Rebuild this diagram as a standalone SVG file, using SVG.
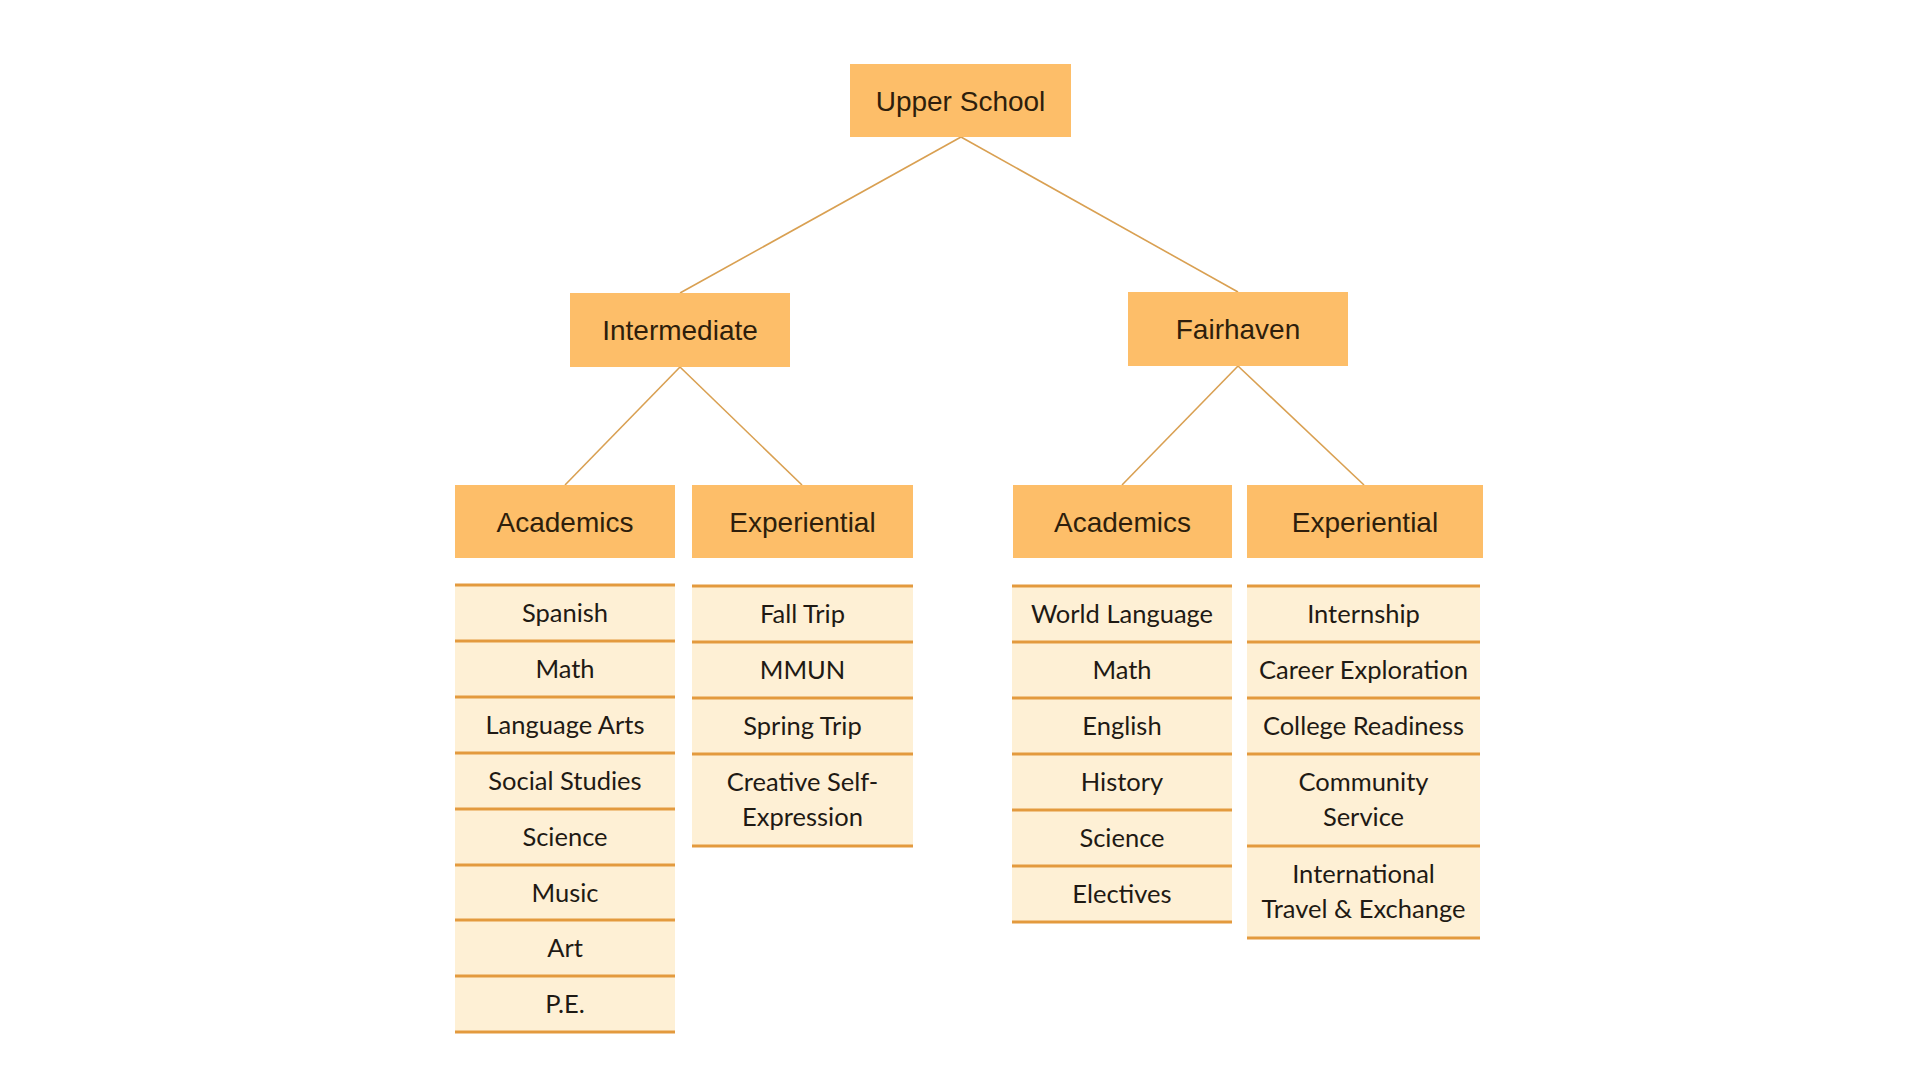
<svg xmlns="http://www.w3.org/2000/svg" width="1920" height="1080" viewBox="0 0 1920 1080">
<style>
.hd{fill:#FDBE69;}
.ht{font-family:"Liberation Sans",Arial,sans-serif;font-size:28px;fill:#2E1E0C;text-anchor:middle;}
.it{fill:#FEF0D5;}
.ln{stroke:#E39A3E;stroke-width:3;}
.tt{font-family:Lato,"Noto Sans",sans-serif;font-size:25.5px;fill:#1F1A14;text-anchor:middle;}
.cn{stroke:#D9A052;stroke-width:1.6;fill:none;}
</style>
<rect width="1920" height="1080" fill="#FFFFFF"/>
<g id="connectors">
<line class="cn" x1="961" y1="137" x2="680" y2="293"/>
<line class="cn" x1="961" y1="137" x2="1238" y2="292"/>
<line class="cn" x1="680" y1="367" x2="565" y2="485"/>
<line class="cn" x1="680" y1="367" x2="802" y2="485"/>
<line class="cn" x1="1238" y1="366" x2="1122" y2="485"/>
<line class="cn" x1="1238" y1="366" x2="1364" y2="485"/>
</g>
<g id="upper-school"><rect class="hd" x="850" y="64" width="221" height="73"/><text class="ht" x="960.5" y="110.5">Upper School</text></g>
<g id="intermediate"><rect class="hd" x="570" y="293" width="220" height="74"/><text class="ht" x="680" y="340">Intermediate</text></g>
<g id="fairhaven"><rect class="hd" x="1128" y="292" width="220" height="74"/><text class="ht" x="1238" y="339">Fairhaven</text></g>
<g id="int-academics"><rect class="hd" x="455" y="485" width="220" height="73"/><text class="ht" x="565" y="531.5">Academics</text></g>
<g id="int-experiential"><rect class="hd" x="692" y="485" width="221" height="73"/><text class="ht" x="802.5" y="531.5">Experiential</text></g>
<g id="fh-academics"><rect class="hd" x="1013" y="485" width="219" height="73"/><text class="ht" x="1122.5" y="531.5">Academics</text></g>
<g id="fh-experiential"><rect class="hd" x="1247" y="485" width="236" height="73"/><text class="ht" x="1365" y="531.5">Experiential</text></g>

<g id="int-academics-list">
<rect class="it" x="455" y="585" width="220" height="447"/>
<line class="ln" x1="455" x2="675" y1="585" y2="585"/>
<line class="ln" x1="455" x2="675" y1="641" y2="641"/>
<line class="ln" x1="455" x2="675" y1="697" y2="697"/>
<line class="ln" x1="455" x2="675" y1="753" y2="753"/>
<line class="ln" x1="455" x2="675" y1="809" y2="809"/>
<line class="ln" x1="455" x2="675" y1="865" y2="865"/>
<line class="ln" x1="455" x2="675" y1="920" y2="920"/>
<line class="ln" x1="455" x2="675" y1="976" y2="976"/>
<line class="ln" x1="455" x2="675" y1="1032" y2="1032"/>
<text class="tt" x="565" y="622">Spanish</text>
<text class="tt" x="565" y="678">Math</text>
<text class="tt" x="565" y="734">Language Arts</text>
<text class="tt" x="565" y="790">Social Studies</text>
<text class="tt" x="565" y="846">Science</text>
<text class="tt" x="565" y="902">Music</text>
<text class="tt" x="565" y="957">Art</text>
<text class="tt" x="565" y="1013">P.E.</text>
</g>

<g id="int-experiential-list">
<rect class="it" x="692" y="586" width="221" height="260"/>
<line class="ln" x1="692" x2="913" y1="586" y2="586"/>
<line class="ln" x1="692" x2="913" y1="642" y2="642"/>
<line class="ln" x1="692" x2="913" y1="698" y2="698"/>
<line class="ln" x1="692" x2="913" y1="754" y2="754"/>
<line class="ln" x1="692" x2="913" y1="846" y2="846"/>
<text class="tt" x="802.5" y="623">Fall Trip</text>
<text class="tt" x="802.5" y="679">MMUN</text>
<text class="tt" x="802.5" y="735">Spring Trip</text>
<text class="tt" x="802.5" y="791">Creative Self-</text>
<text class="tt" x="802.5" y="826">Expression</text>
</g>

<g id="fh-academics-list">
<rect class="it" x="1012" y="586" width="220" height="336"/>
<line class="ln" x1="1012" x2="1232" y1="586" y2="586"/>
<line class="ln" x1="1012" x2="1232" y1="642" y2="642"/>
<line class="ln" x1="1012" x2="1232" y1="698" y2="698"/>
<line class="ln" x1="1012" x2="1232" y1="754" y2="754"/>
<line class="ln" x1="1012" x2="1232" y1="810" y2="810"/>
<line class="ln" x1="1012" x2="1232" y1="866" y2="866"/>
<line class="ln" x1="1012" x2="1232" y1="922" y2="922"/>
<text class="tt" x="1122" y="623">World Language</text>
<text class="tt" x="1122" y="679">Math</text>
<text class="tt" x="1122" y="735">English</text>
<text class="tt" x="1122" y="791">History</text>
<text class="tt" x="1122" y="847">Science</text>
<text class="tt" x="1122" y="903">Electives</text>
</g>

<g id="fh-experiential-list">
<rect class="it" x="1247" y="586" width="233" height="352"/>
<line class="ln" x1="1247" x2="1480" y1="586" y2="586"/>
<line class="ln" x1="1247" x2="1480" y1="642" y2="642"/>
<line class="ln" x1="1247" x2="1480" y1="698" y2="698"/>
<line class="ln" x1="1247" x2="1480" y1="754" y2="754"/>
<line class="ln" x1="1247" x2="1480" y1="846" y2="846"/>
<line class="ln" x1="1247" x2="1480" y1="938" y2="938"/>
<text class="tt" x="1363.5" y="623">Internship</text>
<text class="tt" x="1363.5" y="679">Career Exploration</text>
<text class="tt" x="1363.5" y="735">College Readiness</text>
<text class="tt" x="1363.5" y="791">Community</text>
<text class="tt" x="1363.5" y="826">Service</text>
<text class="tt" x="1363.5" y="883">International</text>
<text class="tt" x="1363.5" y="918">Travel &amp; Exchange</text>
</g>
</svg>
